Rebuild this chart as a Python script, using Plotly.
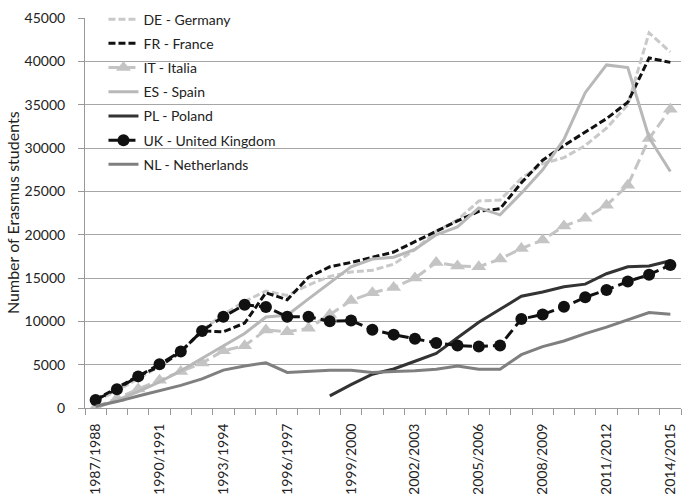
import plotly.graph_objects as go

years = [f"{y}/{y+1}" for y in range(1987, 2015)]
label_years = {f"{y}/{y+1}" for y in range(1987, 2015, 3)}
tick_text = [y if y in label_years else "" for y in years]

de = [800, 2000, 3400, 4800, 6400, 9000, 10800, 12300, 13500, 13000, 14200, 15200, 15700, 15900,
      16600, 18300, 20400, 21700, 23900, 24000, 26500, 28200, 28900, 30300, 32300, 35000, 43300, 41100]
fr = [950, 2300, 3700, 4800, 6500, 8900, 8800, 9800, 13300, 12500, 15100, 16300, 16800, 17400,
      18000, 19200, 20400, 21600, 22700, 23000, 26000, 28600, 30300, 31900, 33400, 35300, 40400, 39900]
it = [100, 1100, 2200, 3200, 4200, 5200, 6600, 7200, 9000, 8800, 9200, 10800, 12400, 13300,
      13900, 15000, 16800, 16400, 16300, 17200, 18400, 19400, 21000, 21900, 23400, 25700, 31100, 34500]
es = [0, 900, 1900, 3000, 4300, 5700, 7100, 8600, 10500, 10700, 12600, 14400, 16300, 17200,
      17400, 18300, 20000, 20900, 23100, 22300, 24800, 27500, 31000, 36400, 39600, 39300, 31200, 27300]
pl = [None] * 11 + [1400, 2700, 3900, 4500, 5400, 6300, 8100, 9900, 11400, 12900, 13400, 14000,
                    14300, 15500, 16300, 16400, 17000]
uk = [930, 2160, 3650, 5040, 6530, 8890, 10540, 11910, 11660, 10540, 10540, 10010, 10090, 9030,
      8470, 7990, 7510, 7210, 7100, 7210, 10270, 10790, 11690, 12780, 13630, 14600, 15390, 16510]
nl = [200, 740, 1380, 1970, 2610, 3360, 4370, 4850, 5220, 4100, 4210, 4370, 4370, 4100,
      4210, 4290, 4480, 4850, 4480, 4480, 6160, 7090, 7730, 8590, 9340, 10200, 11020, 10830]

series = [
    ("DE - Germany", de, dict(color="#c9c9c9", width=3, dash="7px,3px"), None),
    ("FR - France", fr, dict(color="#111111", width=3, dash="7px,3px"), None),
    ("IT - Italia", it, dict(color="#c4c4c4", width=3, dash="11px,5px"),
     dict(symbol="triangle-up", size=13, color="#c4c4c4")),
    ("ES - Spain", es, dict(color="#b8b8b8", width=3), None),
    ("PL - Poland", pl, dict(color="#333333", width=3), None),
    ("UK - United Kingdom", uk, dict(color="#111111", width=3, dash="11px,5px"),
     dict(symbol="circle", size=12, color="#111111")),
    ("NL - Netherlands", nl, dict(color="#7f7f7f", width=3), None),
]

fig = go.Figure()
for i, (name, vals, line, marker) in enumerate(series):
    fig.add_trace(go.Scatter(
        x=years, y=vals, name=name, line=line,
        mode="lines+markers" if marker else "lines",
        marker=marker, legendgroup=f"g{i}", connectgaps=False,
    ))

# invisible helper trace on a linear overlay axis for boundary tick marks
fig.add_trace(go.Scatter(x=[-0.5, len(years) - 0.5], y=[None, None], xaxis="x2",
                         showlegend=False, hoverinfo="skip"))

fig.update_layout(
    width=685, height=494,
    margin=dict(l=85, r=4, t=7, b=86),
    paper_bgcolor="white", plot_bgcolor="white",
    font=dict(family="Lato", size=14, color="#222222"),
    showlegend=True,
    legend=dict(x=0.031, y=1.037, xanchor="left", yanchor="top",
                bgcolor="rgba(0,0,0,0)", tracegroupgap=3,
                font=dict(family="Lato", size=14, color="#222222")),
    xaxis2=dict(overlaying="x", anchor="y", range=[-0.5, len(years) - 0.5],
                tickmode="linear", tick0=-0.5, dtick=1, ticks="outside", ticklen=6,
                tickcolor="#999999", showticklabels=False, showgrid=False,
                zeroline=False, showline=False, automargin=False, side="bottom"),
    annotations=[dict(text="Number of Erasmus students", textangle=-90,
                      xref="paper", yref="paper", x=(12 - 85) / 596, y=0.5,
                      xanchor="center", yanchor="middle", showarrow=False,
                      font=dict(family="Lato", size=16, color="#222222"))],
)
fig.layout.xaxis.update(
    type="category", categoryorder="array", categoryarray=years,
    range=[-0.5, len(years) - 0.5],
    tickmode="array", tickvals=years, ticktext=tick_text,
    ticks="", tickangle=-90, showline=True, linecolor="#999999", linewidth=1,
    showgrid=False, tickfont=dict(size=14), automargin=False, ticklabelstandoff=9,
)
fig.update_yaxes(
    range=[0, 45020], tickmode="array", tickvals=list(range(0, 45001, 5000)),
    ticks="outside", ticklen=6, tickcolor="#999999",
    showgrid=True, gridcolor="#a6a6a6", gridwidth=1,
    showline=True, linecolor="#999999", linewidth=1,
    zeroline=False, tickformat="d", automargin=False, ticklabelstandoff=10,
    ticklabeloverflow="allow",
)

fig.write_html("out.html", post_script="document.body.style.margin='0';",
               config={"displayModeBar": False})
